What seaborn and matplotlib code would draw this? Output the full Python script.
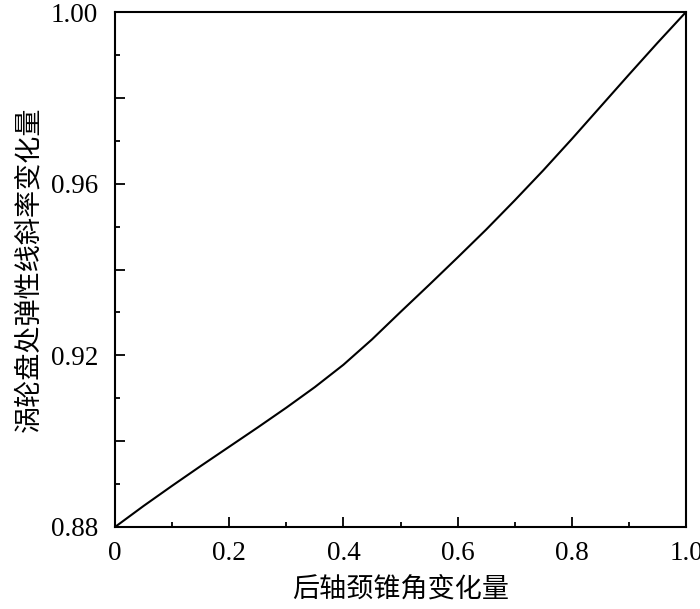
import numpy as np
import pandas as pd
import matplotlib
matplotlib.use("Agg")
import matplotlib.pyplot as plt
import seaborn as sns
from matplotlib.ticker import FixedLocator

# Data
x_vals = [0.0, 0.05, 0.1, 0.15, 0.2, 0.25, 0.3, 0.35, 0.4, 0.45, 0.5,
          0.55, 0.6, 0.65, 0.7, 0.75, 0.8, 0.85, 0.9, 0.95, 1.0]
y_vals = [0.8800, 0.8849, 0.8896, 0.8942, 0.8987, 0.9032, 0.9078, 0.9126,
          0.9178, 0.9237, 0.9301, 0.9364, 0.9428, 0.9493, 0.9561, 0.9631,
          0.9704, 0.9779, 0.9854, 0.9928, 1.0000]
x_label = "后轴颈锥角变化量"
y_label = "涡轮盘处弹性线斜率变化量"
x_ticklabels = ["0", "0.2", "0.4", "0.6", "0.8", "1.0"]
y_ticklabels = ["0.88", "0.92", "0.96", "1.00"]

sns.set_theme(style="white")
plt.rcParams['font.family'] = ['Liberation Serif', 'Noto Sans CJK SC', 'DejaVu Sans']
plt.rcParams['axes.unicode_minus'] = False

df = pd.DataFrame({"x": x_vals, "y": y_vals})

fig = plt.figure(figsize=(7.0, 6.09), dpi=100)
ax = fig.add_axes([115/700, 1-527/609, (686-115)/700, (527-12)/609])

sns.lineplot(data=df, x="x", y="y", ax=ax, color="black", linewidth=1.5)

ax.set_xlim(0, 1.0)
ax.set_ylim(0.88, 1.00)

# x ticks
ax.xaxis.set_major_locator(FixedLocator([0, 0.2, 0.4, 0.6, 0.8, 1.0]))
ax.set_xticklabels(x_ticklabels)
ax.xaxis.set_minor_locator(FixedLocator([0.1, 0.3, 0.5, 0.7, 0.9]))

# y ticks: majors every 0.02, labels every 0.04, minors every 0.01
ymaj = [0.88, 0.90, 0.92, 0.94, 0.96, 0.98, 1.00]
ax.yaxis.set_major_locator(FixedLocator(ymaj))
lab_map = {0: y_ticklabels[0], 2: y_ticklabels[1], 4: y_ticklabels[2], 6: y_ticklabels[3]}
ax.set_yticklabels([lab_map.get(i, "") for i in range(len(ymaj))])
ax.yaxis.set_minor_locator(FixedLocator([0.89, 0.91, 0.93, 0.95, 0.97, 0.99]))

ax.tick_params(axis="both", which="both", direction="in", top=False, right=False,
               bottom=True, left=True, color="black", width=1.3)
ax.tick_params(axis="both", which="major", length=7.5, labelsize=19.5, labelcolor="black")
ax.tick_params(axis="both", which="minor", length=3.8)
ax.tick_params(axis="x", which="major", pad=10)
ax.tick_params(axis="y", which="major", pad=12)

for s in ax.spines.values():
    s.set_visible(True)
    s.set_color("black")
    s.set_linewidth(1.5)

ax.set_xlabel(x_label, fontsize=19.5, color="black", labelpad=7,
              family=['Noto Sans CJK SC', 'DejaVu Sans'])
ax.set_ylabel(y_label, fontsize=19.5, color="black", labelpad=6,
              family=['Noto Sans CJK SC', 'DejaVu Sans'])
ax.grid(False)

fig.savefig("out.png", dpi=100, facecolor="white")
